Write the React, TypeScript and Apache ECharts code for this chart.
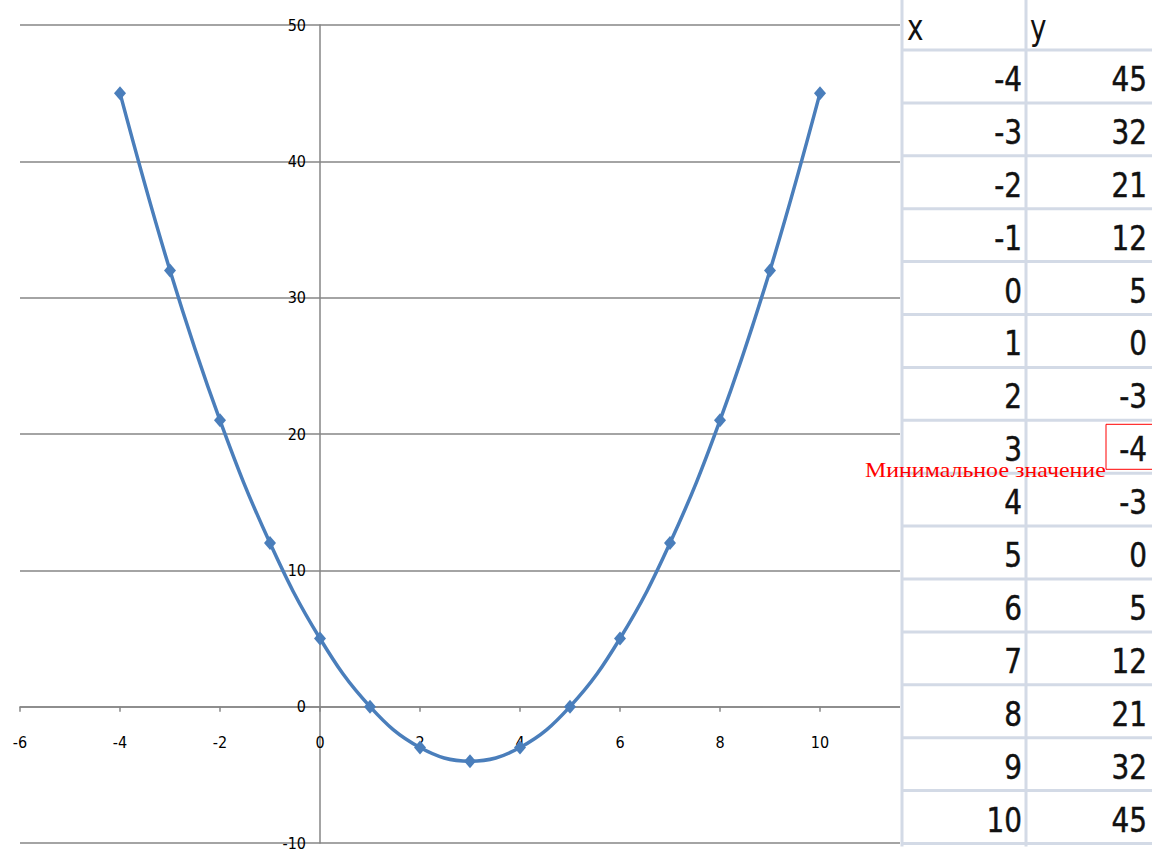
import React, { useEffect, useRef } from "react";
import * as echarts from "echarts";

const xValues = [-4, -3, -2, -1, 0, 1, 2, 3, 4, 5, 6, 7, 8, 9, 10];
const yValues = [45, 32, 21, 12, 5, 0, -3, -4, -3, 0, 5, 12, 21, 32, 45];
const headerX = "x";
const headerY = "y";
const annotation = "Минимальное значение";
const minIndex = 7;

const X_MIN = -6;
const X_MAX = 11.6;
const Y_MIN = -10;
const Y_MAX = 50;

const NARROW = '"Liberation Sans Narrow", "Arial Narrow", "DejaVu Sans Condensed", "Liberation Sans", sans-serif';

export default function App() {
  const ref = useRef<HTMLDivElement>(null);
  useEffect(() => {
    if (!ref.current) return;
    const chart = echarts.init(ref.current, undefined, { renderer: "svg" });
    const W = 1152;
    const H = 864;
    const gLeft = 20;
    const gRight = 252;
    const gTop = 25;
    const gBottom = 21;
    const plotW = W - gLeft - gRight;
    const plotH = H - gTop - gBottom;
    const yAxisOffset = -((0 - X_MIN) / (X_MAX - X_MIN)) * plotW;
    const xAxisOffset = -((0 - Y_MIN) / (Y_MAX - Y_MIN)) * plotH;

    const rowTop = 50;
    const rowH = 52.9;
    const gridColor = "#d3dae6";
    const graphics: any[] = [];
    graphics.push({ type: "rect", z: 100, shape: { x: 900, y: 0, width: 252, height: 864 }, style: { fill: "#ffffff" } });
    const tableBottom = rowTop + rowH * xValues.length;
    [902, 1026].forEach((x) => {
      graphics.push({ type: "line", z: 101, shape: { x1: x, y1: 0, x2: x, y2: tableBottom + 3 }, style: { stroke: gridColor, lineWidth: 3 } });
    });
    for (let i = 0; i <= xValues.length; i++) {
      const y = rowTop + rowH * i;
      graphics.push({ type: "line", z: 101, shape: { x1: 902, y1: y, x2: 1152, y2: y }, style: { stroke: gridColor, lineWidth: 3 } });
    }
    graphics.push({ type: "text", z: 102, x: 907, y: 28, scaleY: 1.15, style: { text: headerX, font: `31px ${NARROW}`, fill: "#111", verticalAlign: "middle", align: "left" } });
    graphics.push({ type: "text", z: 102, x: 1030, y: 28, scaleY: 1.15, style: { text: headerY, font: `31px ${NARROW}`, fill: "#111", verticalAlign: "middle", align: "left" } });
    xValues.forEach((xv, i) => {
      const cy = rowTop + rowH * i + rowH / 2 + 3;
      graphics.push({ type: "text", z: 102, x: 1022, y: cy, scaleY: 1.1, style: { text: String(xv), font: `31px ${NARROW}`, fill: "#111", stroke: "#111", lineWidth: 0.4, verticalAlign: "middle", align: "right" } });
      graphics.push({ type: "text", z: 102, x: 1147, y: cy, scaleY: 1.1, style: { text: String(yValues[i]), font: `31px ${NARROW}`, fill: "#111", stroke: "#111", lineWidth: 0.4, verticalAlign: "middle", align: "right" } });
    });
    const boxTop = rowTop + rowH * minIndex + 4;
    graphics.push({ type: "rect", z: 103, shape: { x: 1106, y: boxTop, width: 50, height: 45 }, style: { fill: "none", stroke: "#ff0000", lineWidth: 1 } });
    graphics.push({ type: "text", z: 104, x: 865, y: 470, scaleX: 1.14, style: { text: annotation, font: '21px "Liberation Serif", "Times New Roman", serif', fill: "#ff0000", verticalAlign: "middle", align: "left" } });

    const axisGray = "#868686";
    chart.setOption({
      animation: false,
      backgroundColor: "#ffffff",
      grid: { left: gLeft, right: gRight, top: gTop, bottom: gBottom, containLabel: false, outerBoundsMode: "none" },
      xAxis: {
        type: "value",
        min: X_MIN,
        max: X_MAX,
        interval: 2,
        position: "bottom",
        offset: xAxisOffset,
        axisLine: { show: true, onZero: false, lineStyle: { color: axisGray, width: 1.5 } },
        axisTick: { show: true, length: 5, lineStyle: { color: axisGray, width: 1.5 } },
        axisLabel: { margin: 28, showMaxLabel: false, color: "#000", fontSize: 16, fontFamily: NARROW },
        splitLine: { show: false },
      },
      yAxis: {
        type: "value",
        min: Y_MIN,
        max: Y_MAX,
        interval: 10,
        position: "left",
        offset: yAxisOffset,
        axisLine: { show: true, onZero: false, lineStyle: { color: axisGray, width: 1.5 } },
        axisTick: { show: false },
        axisLabel: { margin: 14, color: "#000", fontSize: 16, fontFamily: NARROW },
        splitLine: { show: true, lineStyle: { color: axisGray, width: 1.5 } },
      },
      series: [
        {
          type: "line",
          data: xValues.map((x, i) => [x, yValues[i]]),
          smooth: 0.4,
          symbol: "diamond",
          symbolSize: [12, 14],
          showAllSymbol: true,
          lineStyle: { color: "#4a7ebb", width: 3.5 },
          itemStyle: { color: "#4a7ebb" },
          z: 5,
        },
      ],
      graphic: graphics,
    });
    return () => chart.dispose();
  }, []);
  return <div ref={ref} style={{ position: "absolute", left: 0, top: 0, width: 1152, height: 864 }} />;
}
